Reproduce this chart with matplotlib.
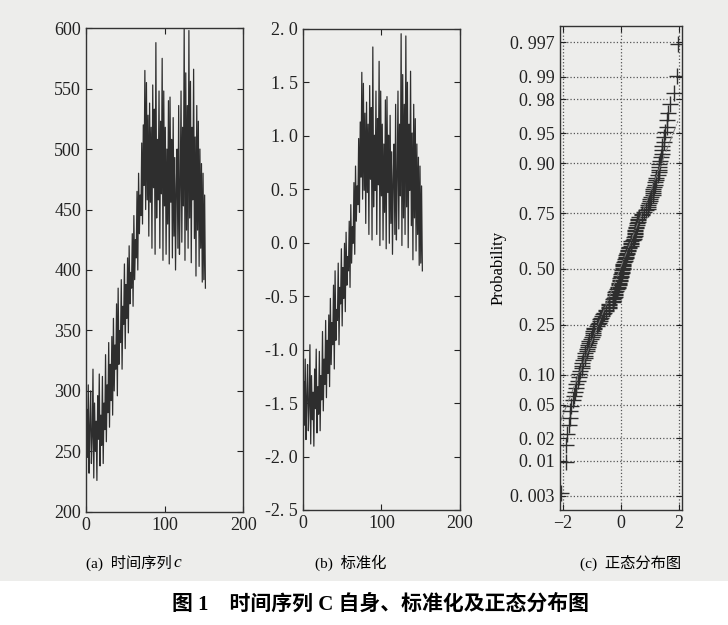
import numpy as np
import matplotlib
matplotlib.use("Agg")
import matplotlib.pyplot as plt
from matplotlib.patches import Rectangle

plt.rcParams['font.family'] = ['Liberation Serif', 'Noto Sans CJK SC']

# time series c
c_values = [
    210, 285, 245, 305, 232, 270, 300, 240, 262, 318,
    228, 290, 250, 275, 226, 296, 260, 314, 238, 280,
    255, 312, 240, 290, 268, 330, 258, 305, 282, 340,
    270, 322, 292, 345, 280, 360, 300, 338, 318, 372,
    296, 385, 322, 350, 340, 392, 318, 370, 355, 405,
    335, 388, 360, 410, 348, 420, 372, 398, 385, 430,
    370, 445, 392, 425, 410, 465, 400, 480, 430, 462,
    445, 505, 438, 520, 470, 565, 450, 555, 458, 528,
    428, 538, 456, 518, 418, 553, 468, 533, 413, 588,
    443, 508, 458, 548, 418, 523, 463, 575, 408, 548,
    453, 518, 413, 500, 438, 540, 405, 543, 456, 508,
    410, 526, 428, 493, 400, 468, 500, 418, 536, 413,
    468, 548, 423, 518, 453, 600, 408, 563, 433, 536,
    418, 598, 443, 556, 406, 518, 458, 566, 426, 510,
    395, 536, 433, 523, 403, 500, 418, 488, 390, 480,
    392, 462, 385,
]
prob_ticks = [0.003, 0.01, 0.02, 0.05, 0.10, 0.25, 0.50, 0.75, 0.90, 0.95, 0.98, 0.99, 0.997]
prob_labels = ['0. 003', '0. 01', '0. 02', '0. 05', '0. 10', '0. 25', '0. 50',
               '0. 75', '0. 90', '0. 95', '0. 98', '0. 99', '0. 997']

c = np.array(c_values, dtype=float)
t = np.arange(len(c))
z = (c - c.mean()) / c.std(ddof=1)


def norminv(p):
    # inverse normal cdf (Acklam approximation)
    p = np.asarray(p, dtype=float)
    a = [-3.969683028665376e+01, 2.209460984245205e+02, -2.759285104469687e+02,
         1.383577518672690e+02, -3.066479806614716e+01, 2.506628277459239e+00]
    b = [-5.447609879822406e+01, 1.615858368580409e+02, -1.556989798598866e+02,
         6.680131188771972e+01, -1.328068155288572e+01]
    cc = [-7.784894002430293e-03, -3.223964580411365e-01, -2.400758277161838e+00,
          -2.549732539343734e+00, 4.374664141464968e+00, 2.938163982698783e+00]
    d = [7.784695709041462e-03, 3.224671290700398e-01, 2.445134137142996e+00,
         3.754408661907416e+00]
    out = np.zeros_like(p)
    lo = p < 0.02425
    hi = p > 1 - 0.02425
    mid = ~(lo | hi)
    q = np.sqrt(-2 * np.log(p[lo]))
    out[lo] = (((((cc[0]*q+cc[1])*q+cc[2])*q+cc[3])*q+cc[4])*q+cc[5]) / \
              ((((d[0]*q+d[1])*q+d[2])*q+d[3])*q+1)
    q = np.sqrt(-2 * np.log(1 - p[hi]))
    out[hi] = -(((((cc[0]*q+cc[1])*q+cc[2])*q+cc[3])*q+cc[4])*q+cc[5]) / \
               ((((d[0]*q+d[1])*q+d[2])*q+d[3])*q+1)
    q = p[mid] - 0.5
    r = q * q
    out[mid] = (((((a[0]*r+a[1])*r+a[2])*r+a[3])*r+a[4])*r+a[5])*q / \
               (((((b[0]*r+b[1])*r+b[2])*r+b[3])*r+b[4])*r+1)
    return out


bg = '#ededeb'
line_col = '#2e2e2e'
fig = plt.figure(figsize=(7.28, 6.25), dpi=100, facecolor=bg)
fig.patches.append(Rectangle((0, 0), 1, 0.07, transform=fig.transFigure,
                             facecolor='white', edgecolor='none', zorder=0))

# (a) raw series
ax1 = fig.add_axes([0.118, 0.181, 0.216, 0.774], facecolor=bg)
ax1.plot(t, c, color=line_col, lw=0.9)
ax1.set_xlim(0, 200)
ax1.set_ylim(200, 600)
ax1.set_xticks([0, 100, 200])
ax1.set_yticks(range(200, 601, 50))

# (b) standardized
ax2 = fig.add_axes([0.416, 0.184, 0.216, 0.770], facecolor=bg)
ax2.plot(t, z, color=line_col, lw=0.9)
ax2.set_xlim(0, 200)
ax2.set_ylim(-2.5, 2.0)
ax2.set_xticks([0, 100, 200])
yt = np.arange(-2.5, 2.01, 0.5)
ax2.set_yticks(yt)
ax2.set_yticklabels([('%.1f' % v).replace('.', '. ') for v in yt])

# (c) normal probability plot
ax3 = fig.add_axes([0.769, 0.184, 0.168, 0.774], facecolor=bg)
zs = np.sort(z)
n = len(zs)
pp = norminv((np.arange(1, n + 1) - 0.5) / n)
ax3.plot(zs, pp, '+', color=line_col, ms=11, mew=1.0)
q1, q3 = np.percentile(zs, [25, 75])
pq1, pq3 = norminv(np.array([0.25, 0.75]))
slope = (pq3 - pq1) / (q3 - q1)
xr = np.array([zs[0], zs[-1]])
ax3.plot(xr, pq1 + slope * (xr - q1), '-.', color='#777777', lw=0.7)
ax3.set_xlim(-2.1, 2.1)
ax3.set_ylim(-2.92, 2.94)
ax3.set_xticks([-2, 0, 2])
ax3.set_xticklabels(['\u22122', '0', '2'])
ax3.set_yticks(norminv(np.array(prob_ticks)))
ax3.set_yticklabels(prob_labels)
ax3.grid(True, linestyle=':', color='#555555', lw=0.9)
ax3.set_ylabel('Probability', fontsize=12, labelpad=3)

for ax in (ax1, ax2, ax3):
    ax.tick_params(direction='in', top=True, right=True, labelsize=13,
                   length=4, width=0.8, colors='#222222')
    for s in ax.spines.values():
        s.set_color('#333333')
        s.set_linewidth(1.0)

fig.text(0.236, 0.099, '(a)  时间序列', fontsize=11, ha='right', va='center')
fig.text(0.238, 0.099, 'c', fontsize=12.5, style='italic', ha='left', va='center')
fig.text(0.482, 0.099, '(b)  标准化', fontsize=11, ha='center', va='center')
fig.text(0.866, 0.099, '(c)  正态分布图', fontsize=11, ha='center', va='center')
fig.text(0.522, 0.032, '图 1    时间序列 C 自身、标准化及正态分布图', fontsize=15,
         fontweight='bold', ha='center', va='center')

fig.savefig('out.png', dpi=100, facecolor=fig.get_facecolor())
